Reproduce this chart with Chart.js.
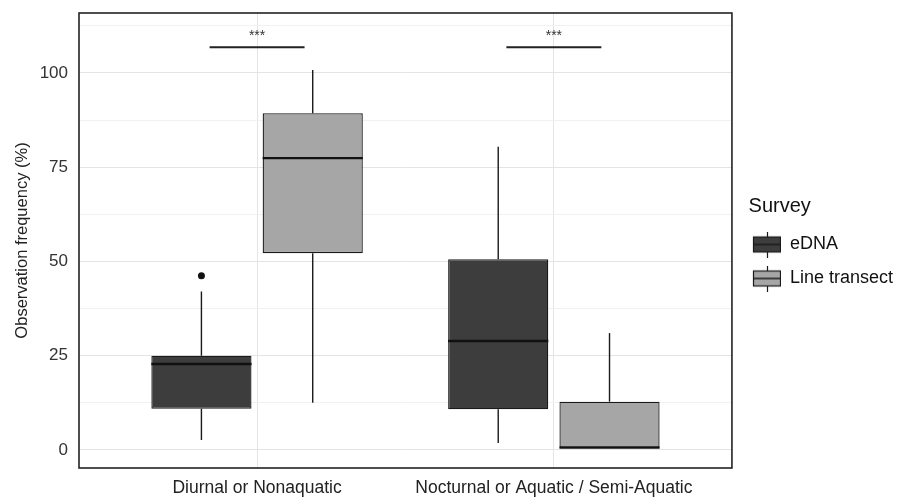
<!DOCTYPE html>
<html>
<head>
<meta charset="utf-8">
<script src="https://cdn.jsdelivr.net/npm/chart.js@4/dist/chart.umd.min.js"></script>
<style>
  html, body { margin: 0; padding: 0; background: #fff; }
  #wrap { width: 914px; height: 498px; }
</style>
</head>
<body>
<div id="wrap"><canvas id="boxChart"></canvas></div>
<script>
// groups on the x axis
const categories = ['Diurnal or Nonaquatic', 'Nocturnal or Aquatic / Semi-Aquatic'];

// eDNA boxes
const ednaMin = [2.6, 1.8];
const ednaQ1 = [10.9, 10.8];
const ednaMedian = [22.8, 28.9];
const ednaQ3 = [25.0, 50.6];
const ednaMax = [42.0, 80.4];
const ednaOutliers = [[46.2], []];

// line transect boxes
const lineMin = [12.5, 0.6];
const lineQ1 = [52.2, 0.6];
const lineMedian = [77.4, 0.6];
const lineQ3 = [89.3, 12.8];
const lineMax = [100.8, 31.0];
const lineOutliers = [[], []];

// significance bars above each group
const sigY = 106.8;
const sigHalfWidth = 0.16;
const sigLabels = ['***', '***'];

// axis
const yGridValues = [0, 12.5, 25, 37.5, 50, 62.5, 75, 87.5, 100, 112.5];
const yTickLabels = [0, 25, 50, 75, 100];

const FONT = "'Liberation Sans', Arial, sans-serif";

const series = [
  { label: 'eDNA', fill: '#3d3d3d', min: ednaMin, q1: ednaQ1, med: ednaMedian, q3: ednaQ3, max: ednaMax, out: ednaOutliers },
  { label: 'Line transect', fill: '#a6a6a6', min: lineMin, q1: lineQ1, med: lineMedian, q3: lineQ3, max: lineMax, out: lineOutliers },
];

// little boxplot glyph for the legend key
function legendGlyph(fill) {
  const c = document.createElement('canvas');
  c.width = 33; c.height = 26;
  const g = c.getContext('2d');
  g.strokeStyle = '#1a1a1a';
  g.lineWidth = 1.2;
  g.beginPath();
  g.moveTo(19.5, 0); g.lineTo(19.5, 26);
  g.stroke();
  g.fillStyle = fill;
  g.fillRect(5.5, 5.5, 27, 15);
  g.strokeRect(5.5, 5.5, 27, 15);
  g.lineWidth = 1.5;
  g.beginPath();
  g.moveTo(5.5, 13); g.lineTo(32.5, 13);
  g.stroke();
  return c;
}

const boxExtras = {
  id: 'boxExtras',
  afterDatasetsDraw(chart) {
    const { ctx, chartArea, scales } = chart;
    const y = scales.y, x = scales.x;
    ctx.save();
    series.forEach((s, d) => {
      const meta = chart.getDatasetMeta(d);
      meta.data.forEach((el, i) => {
        const cx = el.x, half = el.width / 2;
        ctx.strokeStyle = '#1a1a1a';
        ctx.lineWidth = 1.4;
        ctx.beginPath();
        ctx.moveTo(cx, y.getPixelForValue(s.q3[i]));
        ctx.lineTo(cx, y.getPixelForValue(s.max[i]));
        ctx.moveTo(cx, y.getPixelForValue(s.q1[i]));
        ctx.lineTo(cx, y.getPixelForValue(s.min[i]));
        ctx.stroke();
        ctx.lineWidth = 2.4;
        ctx.strokeStyle = '#111';
        ctx.beginPath();
        const my = y.getPixelForValue(s.med[i]);
        ctx.moveTo(cx - half, my);
        ctx.lineTo(cx + half, my);
        ctx.stroke();
        ctx.fillStyle = '#111';
        s.out[i].forEach((v) => {
          ctx.beginPath();
          ctx.arc(cx, y.getPixelForValue(v), 3.5, 0, Math.PI * 2);
          ctx.fill();
        });
      });
    });
    // significance bars
    const by = y.getPixelForValue(sigY);
    sigLabels.forEach((lab, i) => {
      const c = i + 1;
      ctx.strokeStyle = '#222';
      ctx.lineWidth = 2;
      ctx.beginPath();
      ctx.moveTo(x.getPixelForValue(c - sigHalfWidth), by);
      ctx.lineTo(x.getPixelForValue(c + sigHalfWidth), by);
      ctx.stroke();
      ctx.fillStyle = '#333';
      ctx.font = '14px ' + FONT;
      ctx.textAlign = 'center';
      ctx.textBaseline = 'bottom';
      ctx.fillText(lab, x.getPixelForValue(c), by - 4);
    });
    // panel border
    ctx.strokeStyle = '#222';
    ctx.lineWidth = 1.6;
    ctx.strokeRect(chartArea.left, chartArea.top, chartArea.right - chartArea.left, chartArea.bottom - chartArea.top);
    ctx.restore();
  }
};

new Chart(document.getElementById('boxChart'), {
  type: 'bar',
  data: {
    datasets: series.map((s) => ({
      label: s.label,
      data: categories.map((c, i) => ({ x: i + 1, y: [s.q1[i], s.q3[i]] })),
      backgroundColor: s.fill,
      borderColor: '#1a1a1a',
      borderWidth: 1.3,
      borderSkipped: false,
      categoryPercentage: 0.75,
      barPercentage: 0.9,
      pointStyle: legendGlyph(s.fill),
    })),
  },
  options: {
    responsive: true,
    maintainAspectRatio: false,
    animation: false,
    layout: { padding: { top: 13, right: 11, left: 0, bottom: 0 } },
    plugins: {
      tooltip: { enabled: false },
      legend: {
        position: 'right',
        title: {
          display: true,
          // leading spaces push the title in line with the keys
          text: '   Survey',
          position: 'start',
          color: '#111',
          font: { family: FONT, size: 20 },
          padding: { top: -11, bottom: -1 },
        },
        labels: {
          usePointStyle: true,
          pointStyleWidth: 33,
          padding: 16,
          color: '#111',
          font: { family: FONT, size: 18 },
        },
      },
    },
    scales: {
      x: {
        type: 'linear',
        min: 0.4,
        max: 2.6,
        offset: false,
        grid: { offset: false, color: '#e4e4e4', drawTicks: false },
        border: { display: false },
        afterBuildTicks: (scale) => { scale.ticks = categories.map((c, i) => ({ value: i + 1 })); },
        afterFit: (scale) => { scale.height = 30; scale.paddingLeft = 0; scale.paddingRight = 0; },
        ticks: {
          autoSkip: false,
          maxRotation: 0,
          padding: 10,
          color: '#222',
          font: { family: FONT, size: 17.5 },
          callback: (v) => categories[v - 1],
        },
      },
      y: {
        min: -4.8,
        max: 115.9,
        grid: {
          drawTicks: false,
          color: (c) => (yTickLabels.includes(c.tick.value) ? '#e4e4e4' : '#f1f1f1'),
        },
        border: { display: false },
        afterBuildTicks: (scale) => { scale.ticks = yGridValues.map((v) => ({ value: v })); },
        afterFit: (scale) => { scale.width = 79; scale.paddingTop = 0; scale.paddingBottom = 0; },
        ticks: {
          padding: 11,
          color: '#333',
          font: { family: FONT, size: 17 },
          callback: (v) => (yTickLabels.includes(v) ? v : ''),
        },
        title: {
          display: true,
          text: 'Observation frequency (%)',
          color: '#222',
          font: { family: FONT, size: 16.5 },
          padding: { top: 13, bottom: 0 },
        },
      },
    },
  },
  plugins: [boxExtras],
});
</script>
</body>
</html>
